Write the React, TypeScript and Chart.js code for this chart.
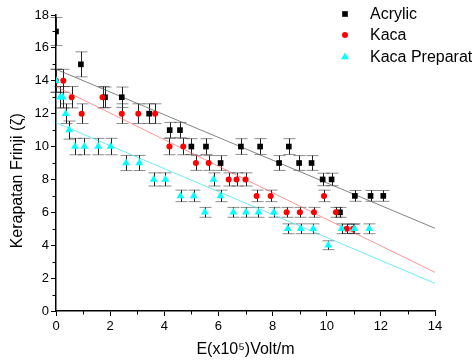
import React, { useEffect, useRef } from "react";
import { Chart, registerables } from "chart.js";

Chart.register(...registerables);

// Acrylic
const acrylicX = [0, 0.92, 1.81, 2.43, 3.44, 4.2, 4.58, 5.0, 5.54, 6.08, 6.83, 7.54, 8.24, 8.6, 8.98, 9.44, 9.85, 10.18, 10.49, 11.04, 11.62, 12.09];
const acrylicY = [17, 15, 13, 13, 12, 11, 11, 10, 10, 9, 10, 10, 9, 10, 9, 9, 8, 8, 6, 7, 7, 7];
const acrylicErr = [0.85, 0.76, 0.62, 0.62, 0.6, 0.47, 0.47, 0.48, 0.48, 0.45, 0.48, 0.48, 0.45, 0.48, 0.45, 0.45, 0.38, 0.38, 0.3, 0.33, 0.33, 0.33];

// Kaca
const kacaX = [0, 0.27, 0.58, 0.95, 1.72, 2.43, 3.04, 3.66, 4.19, 4.7, 5.17, 5.64, 6.38, 6.67, 7.0, 7.41, 7.93, 8.52, 9.01, 9.53, 9.9, 10.34, 10.74, 10.98];
const kacaY = [14, 14, 13, 12, 13, 12, 12, 12, 10, 10, 9, 9, 8, 8, 8, 7, 7, 6, 6, 6, 7, 6, 5, 5];
const kacaErr = [0.7, 0.7, 0.65, 0.6, 0.65, 0.6, 0.6, 0.6, 0.5, 0.5, 0.45, 0.45, 0.4, 0.4, 0.4, 0.35, 0.35, 0.3, 0.3, 0.3, 0.35, 0.3, 0.28, 0.28];

// Kaca Preparat
const prepX = [0, 0.15, 0.25, 0.36, 0.49, 0.7, 1.05, 1.56, 2.02, 2.59, 3.08, 3.61, 4.04, 4.6, 5.09, 5.5, 5.82, 6.08, 6.55, 7.02, 7.48, 8.05, 8.56, 9.04, 9.5, 10.06, 10.55, 11.02, 11.57];
const prepY = [14, 13, 13, 12, 11, 10, 10, 10, 10, 9, 9, 8, 8, 7, 7, 6, 8, 7, 6, 6, 6, 6, 5, 5, 5, 4, 5, 5, 5];
const prepErr = [0.7, 0.65, 0.65, 0.6, 0.55, 0.5, 0.5, 0.5, 0.5, 0.46, 0.46, 0.4, 0.4, 0.35, 0.35, 0.3, 0.4, 0.35, 0.3, 0.3, 0.3, 0.3, 0.3, 0.3, 0.3, 0.27, 0.3, 0.3, 0.3];

// Linear fit end points (x = 0 and x = 14)
const fitX = [0, 14];
const acrylicFitY = [14.7, 5.03];
const kacaFitY = [13.65, 2.35];
const prepFitY = [11.45, 1.68];

const seriesLabels = ["Acrylic", "Kaca", "Kaca Preparat"];
const seriesColors = ["#000000", "#ff0000", "#00ffff"];
const seriesStyles = ["rect", "circle", "triangle"];
const seriesRadius = [4, 3, 4.5];

const FONT = "'Liberation Sans', Arial, sans-serif";

const pts = (xs: number[], ys: number[]) => xs.map((x, i) => ({ x, y: ys[i] }));

function drawMarker(ctx: CanvasRenderingContext2D, style: string, r: number, x: number, y: number, color: string) {
  ctx.fillStyle = color;
  ctx.beginPath();
  if (style === "rect") {
    const s = r / Math.SQRT2;
    ctx.rect(x - s, y - s, 2 * s, 2 * s);
  } else if (style === "circle") {
    ctx.arc(x, y, r, 0, Math.PI * 2);
  } else {
    const a = -Math.PI / 2;
    for (let k = 0; k < 3; k++) {
      const ang = a + (k * 2 * Math.PI) / 3;
      const px = x + Math.cos(ang) * r;
      const py = y + Math.sin(ang) * r;
      if (k === 0) ctx.moveTo(px, py);
      else ctx.lineTo(px, py);
    }
    ctx.closePath();
  }
  ctx.fill();
}

export default function App() {
  const ref = useRef<HTMLCanvasElement | null>(null);

  useEffect(() => {
    document.body.style.margin = "0";
    const canvas = ref.current;
    if (!canvas) return;

    const errs: Record<number, number[]> = { 0: acrylicErr, 1: kacaErr, 2: prepErr };

    const errorBars = {
      id: "errorBars",
      beforeDatasetsDraw(chart: any) {
        const ctx = chart.ctx;
        const xs = chart.scales.x;
        const ys = chart.scales.y;
        ctx.save();
        [0, 1, 2].forEach((di) => {
          const data = chart.data.datasets[di].data as { x: number; y: number }[];
          data.forEach((p, i) => {
            const e = errs[di][i];
            const px = Math.round(xs.getPixelForValue(p.x)) + 0.5;
            const yt = ys.getPixelForValue(p.y + e);
            const yb = ys.getPixelForValue(p.y - e);
            ctx.strokeStyle = "#222";
            ctx.lineWidth = 1;
            ctx.beginPath();
            ctx.moveTo(px, yt);
            ctx.lineTo(px, yb);
            ctx.stroke();
            ctx.strokeStyle = "rgba(0,0,0,0.45)";
            ctx.beginPath();
            ctx.moveTo(px - 6, yt);
            ctx.lineTo(px + 6, yt);
            ctx.moveTo(px - 6, yb);
            ctx.lineTo(px + 6, yb);
            ctx.stroke();
          });
        });
        ctx.restore();
      },
    };

    const minorTicks = {
      id: "minorTicks",
      afterDraw(chart: any) {
        const ctx = chart.ctx;
        const xs = chart.scales.x;
        const ys = chart.scales.y;
        const area = chart.chartArea;
        ctx.save();
        ctx.strokeStyle = "#000";
        ctx.lineWidth = 1;
        ctx.beginPath();
        xs.ticks.forEach((t: any) => {
          if (t.value % 2 !== 0) {
            const px = Math.round(xs.getPixelForValue(t.value)) + 0.5;
            ctx.moveTo(px, area.bottom);
            ctx.lineTo(px, area.bottom + 3.5);
          }
        });
        ys.ticks.forEach((t: any) => {
          if (t.value % 2 !== 0) {
            const py = Math.round(ys.getPixelForValue(t.value)) + 0.5;
            ctx.moveTo(area.left, py);
            ctx.lineTo(area.left - 3.5, py);
          }
        });
        ctx.stroke();
        ctx.restore();
      },
    };

    const legendPlugin = {
      id: "customLegend",
      afterDraw(chart: any) {
        const ctx = chart.ctx;
        ctx.save();
        const rows = [14, 35, 57];
        seriesLabels.forEach((label, i) => {
          const y = rows[i];
          drawMarker(ctx, seriesStyles[i], seriesRadius[i], 345, y, seriesColors[i]);
          ctx.fillStyle = "#000";
          ctx.font = `16px ${FONT}`;
          ctx.textBaseline = "middle";
          ctx.textAlign = "left";
          ctx.fillText(label, 370, y + 1);
        });
        ctx.restore();
      },
    };

    const majorTickColor = (c: any) => (c.tick && c.tick.value % 2 === 0 ? "#000" : "rgba(0,0,0,0)");

    const chart = new Chart(canvas, {
      type: "scatter",
      data: {
        datasets: [
          {
            label: seriesLabels[0],
            data: pts(acrylicX, acrylicY),
            pointStyle: seriesStyles[0] as any,
            pointRadius: seriesRadius[0],
            backgroundColor: seriesColors[0],
            borderColor: seriesColors[0],
            borderWidth: 0,
            order: 3,
          },
          {
            label: seriesLabels[1],
            data: pts(kacaX, kacaY),
            pointStyle: seriesStyles[1] as any,
            pointRadius: seriesRadius[1],
            backgroundColor: seriesColors[1],
            borderColor: seriesColors[1],
            borderWidth: 0,
            order: 2,
          },
          {
            label: seriesLabels[2],
            data: pts(prepX, prepY),
            pointStyle: seriesStyles[2] as any,
            pointRadius: seriesRadius[2],
            backgroundColor: seriesColors[2],
            borderColor: seriesColors[2],
            borderWidth: 0,
            order: 1,
          },
          {
            type: "line" as any,
            label: "fit Acrylic",
            data: pts(fitX, acrylicFitY),
            borderColor: "rgba(90,90,90,0.75)",
            borderWidth: 1,
            pointRadius: 0,
            showLine: true,
            fill: false,
            order: 10,
          },
          {
            type: "line" as any,
            label: "fit Kaca",
            data: pts(fitX, kacaFitY),
            borderColor: "rgba(255,90,90,0.65)",
            borderWidth: 1,
            pointRadius: 0,
            showLine: true,
            fill: false,
            order: 10,
          },
          {
            type: "line" as any,
            label: "fit Kaca Preparat",
            data: pts(fitX, prepFitY),
            borderColor: "rgba(60,230,240,0.75)",
            borderWidth: 1,
            pointRadius: 0,
            showLine: true,
            fill: false,
            order: 10,
          },
        ],
      },
      options: {
        animation: false,
        responsive: false,
        devicePixelRatio: 1,
        layout: { padding: { top: 15, right: 37, left: 0, bottom: 0 } },
        plugins: {
          legend: { display: false },
          tooltip: { enabled: false },
        },
        scales: {
          x: {
            type: "linear",
            min: 0,
            max: 14,
            afterFit: (s: any) => {
              s.height = 51;
            },
            ticks: {
              stepSize: 1,
              autoSkip: false,
              maxRotation: 0,
              padding: 3,
              color: "#000",
              font: { family: FONT, size: 13 },
              callback: (v: any) => (Number(v) % 2 === 0 ? String(v) : ""),
            },
            grid: {
              drawOnChartArea: false,
              drawTicks: true,
              tickLength: 5,
              tickColor: majorTickColor,
              tickWidth: 1,
            },
            border: { display: true, color: "#000", width: 1.5 },
            title: {
              display: true,
              text: "E(x10⁵)Volt/m",
              color: "#000",
              font: { family: FONT, size: 16 },
              padding: { top: 0, bottom: 3 },
            },
          },
          y: {
            type: "linear",
            min: 0,
            max: 18,
            afterFit: (s: any) => {
              s.width = 56;
            },
            ticks: {
              stepSize: 1,
              autoSkip: false,
              padding: 2,
              color: "#000",
              font: { family: FONT, size: 13 },
              callback: (v: any) => (Number(v) % 2 === 0 ? String(v) : ""),
            },
            grid: {
              drawOnChartArea: false,
              drawTicks: true,
              tickLength: 5,
              tickColor: majorTickColor,
              tickWidth: 1,
            },
            border: { display: true, color: "#000", width: 1.5 },
            title: {
              display: true,
              text: "Kerapatan Frinji (ζ)        ",
              color: "#000",
              font: { family: FONT, size: 16 },
              padding: { top: 8, bottom: 0 },
            },
          },
        },
      },
      plugins: [errorBars, minorTicks, legendPlugin],
    });

    return () => chart.destroy();
  }, []);

  return (
    <div style={{ width: 472, height: 362, background: "#fff" }}>
      <canvas ref={ref} width={472} height={362} />
    </div>
  );
}
